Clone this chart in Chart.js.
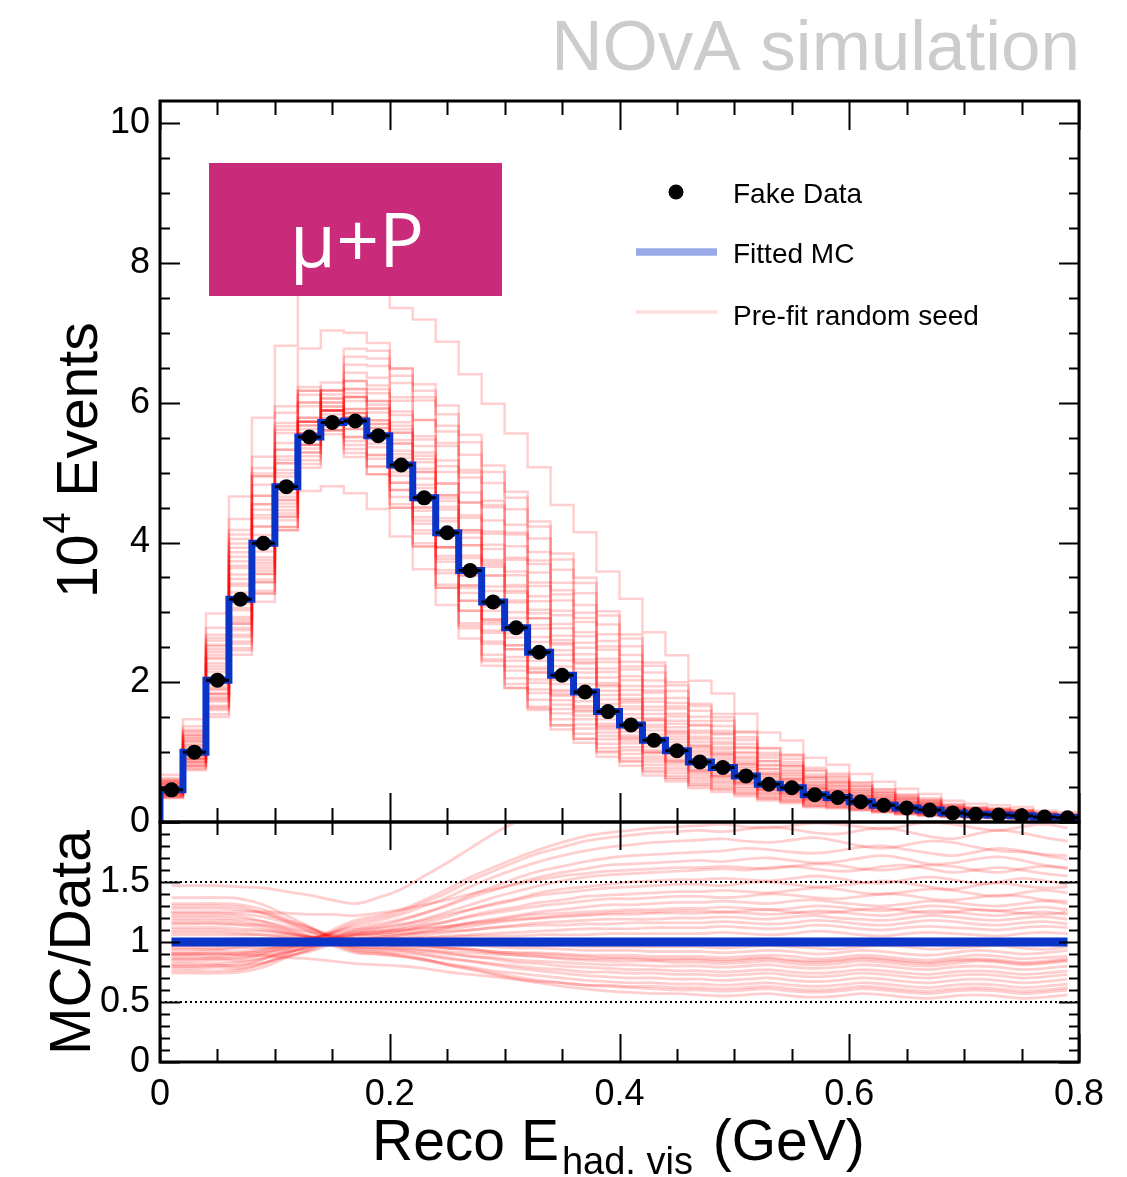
<!DOCTYPE html>
<html>
<head>
<meta charset="utf-8">
<script src="https://cdn.jsdelivr.net/npm/chart.js@4.4.1/dist/chart.umd.min.js"></script>
<style>
  html, body { margin: 0; padding: 0; background: #fff; }
  #wrap { position: relative; width: 1127px; height: 1177px; overflow: hidden; background: #fff; }
  #wrap canvas { position: absolute; left: 0; top: 0; }
</style>
</head>
<body>
<div id="wrap">
  <canvas id="mainPad" width="1127" height="1177"></canvas>
  <canvas id="ratioPad" width="1127" height="1177"></canvas>
</div>
<script>
// ---------------- data ----------------
// bin edges of reconstructed visible hadronic energy (GeV)
const binEdges = [0.00,0.02,0.04,0.06,0.08,0.10,0.12,0.14,0.16,0.18,
                  0.20,0.22,0.24,0.26,0.28,0.30,0.32,0.34,0.36,0.38,
                  0.40,0.42,0.44,0.46,0.48,0.50,0.52,0.54,0.56,0.58,
                  0.60,0.62,0.64,0.66,0.68,0.70,0.72,0.74,0.76,0.78,0.80];

// fake data, in units of 10^4 events per bin
const fakeData = [0.46,1.00,2.03,3.19,3.99,4.80,5.51,5.72,5.74,5.53,
                  5.11,4.64,4.14,3.60,3.15,2.78,2.43,2.10,1.86,1.58,
                  1.39,1.17,1.02,0.86,0.78,0.66,0.54,0.49,0.39,0.35,
                  0.29,0.24,0.20,0.17,0.13,0.11,0.10,0.09,0.07,0.06];

// post-fit MC prediction (10^4 events per bin)
const fittedMC = [0.46,1.00,2.03,3.19,3.99,4.80,5.51,5.72,5.74,5.53,
                  5.11,4.64,4.14,3.60,3.15,2.78,2.43,2.10,1.86,1.58,
                  1.39,1.17,1.02,0.86,0.78,0.66,0.54,0.49,0.39,0.35,
                  0.29,0.24,0.20,0.17,0.13,0.11,0.10,0.09,0.07,0.06];

// pre-fit random seeds, as MC/Data per bin
const seedRatio = [
 [1.47,1.47,1.47,1.46,1.45,1.42,1.39,1.35,1.32,1.37,1.44,1.55,1.66,1.78,1.90,2.00,2.09,2.16,2.23,2.27,2.30,2.32,2.34,2.35,2.36,2.35,2.37,2.38,2.36,2.34,2.37,2.40,2.38,2.35,2.33,2.36,2.39,2.37,2.34,2.36],
 [0.80,0.80,0.81,0.80,0.86,0.93,1.01,1.10,1.18,1.22,1.27,1.35,1.44,1.54,1.62,1.70,1.77,1.83,1.88,1.91,1.93,1.95,1.96,1.97,1.98,1.96,1.95,1.97,1.99,1.98,1.96,1.94,1.97,2.00,1.98,1.95,1.93,1.96,1.98,1.95],
 [0.76,0.76,0.76,0.77,0.82,0.90,0.98,1.08,1.16,1.20,1.25,1.33,1.41,1.51,1.59,1.67,1.74,1.79,1.84,1.87,1.89,1.91,1.92,1.93,1.92,1.94,1.96,1.94,1.91,1.90,1.93,1.95,1.92,1.88,1.86,1.90,1.93,1.91,1.87,1.84],
 [0.86,0.86,0.87,0.86,0.90,0.96,1.01,1.08,1.14,1.18,1.23,1.30,1.37,1.46,1.54,1.61,1.67,1.72,1.76,1.79,1.81,1.83,1.84,1.85,1.86,1.84,1.83,1.85,1.87,1.84,1.80,1.78,1.81,1.84,1.83,1.79,1.76,1.75,1.73,1.72],
 [0.74,0.74,0.74,0.75,0.79,0.87,0.94,1.03,1.10,1.13,1.18,1.24,1.31,1.39,1.46,1.53,1.59,1.63,1.67,1.70,1.72,1.73,1.74,1.75,1.76,1.78,1.77,1.75,1.74,1.76,1.79,1.80,1.77,1.74,1.72,1.75,1.78,1.76,1.72,1.69],
 [0.90,0.90,0.91,0.90,0.93,0.98,1.02,1.08,1.12,1.15,1.19,1.24,1.30,1.37,1.43,1.49,1.54,1.58,1.61,1.64,1.65,1.66,1.67,1.68,1.67,1.69,1.70,1.68,1.66,1.67,1.70,1.72,1.69,1.65,1.66,1.69,1.71,1.68,1.64,1.62],
 [0.82,0.82,0.82,0.83,0.86,0.91,0.96,1.03,1.08,1.11,1.14,1.19,1.25,1.31,1.37,1.42,1.47,1.51,1.54,1.56,1.57,1.58,1.59,1.60,1.61,1.60,1.62,1.63,1.61,1.59,1.60,1.63,1.64,1.61,1.58,1.60,1.62,1.60,1.57,1.55],
 [0.78,0.78,0.79,0.78,0.82,0.88,0.93,1.00,1.06,1.08,1.12,1.16,1.21,1.27,1.32,1.36,1.41,1.44,1.46,1.48,1.50,1.51,1.52,1.52,1.53,1.52,1.51,1.53,1.55,1.53,1.50,1.49,1.52,1.54,1.52,1.49,1.50,1.53,1.51,1.48],
 [0.95,0.95,0.95,0.96,0.97,1.00,1.03,1.07,1.10,1.12,1.15,1.18,1.23,1.27,1.31,1.35,1.39,1.41,1.43,1.45,1.46,1.47,1.48,1.48,1.47,1.49,1.50,1.48,1.46,1.47,1.49,1.51,1.49,1.46,1.44,1.47,1.49,1.47,1.45,1.46],
 [0.84,0.84,0.85,0.84,0.87,0.91,0.96,1.01,1.05,1.07,1.09,1.13,1.17,1.22,1.26,1.29,1.33,1.35,1.38,1.39,1.40,1.41,1.42,1.42,1.43,1.42,1.41,1.43,1.45,1.44,1.41,1.40,1.42,1.44,1.43,1.40,1.38,1.41,1.43,1.41],
 [0.88,0.88,0.88,0.89,0.91,0.95,0.98,1.03,1.07,1.09,1.11,1.14,1.17,1.21,1.24,1.27,1.30,1.32,1.34,1.36,1.36,1.37,1.38,1.38,1.37,1.38,1.40,1.39,1.37,1.36,1.38,1.40,1.39,1.36,1.35,1.37,1.39,1.38,1.35,1.34],
 [0.80,0.80,0.80,0.81,0.83,0.88,0.92,0.98,1.02,1.04,1.06,1.09,1.12,1.16,1.19,1.22,1.25,1.27,1.29,1.31,1.31,1.32,1.33,1.33,1.34,1.33,1.32,1.34,1.35,1.33,1.31,1.30,1.32,1.34,1.33,1.31,1.30,1.32,1.34,1.32],
 [0.92,0.92,0.93,0.92,0.94,0.97,1.00,1.03,1.06,1.07,1.09,1.11,1.13,1.16,1.18,1.21,1.23,1.24,1.25,1.26,1.27,1.27,1.28,1.28,1.29,1.28,1.27,1.28,1.30,1.29,1.27,1.26,1.28,1.30,1.29,1.27,1.26,1.28,1.29,1.27],
 [0.86,0.86,0.86,0.87,0.89,0.92,0.95,1.00,1.03,1.04,1.06,1.08,1.11,1.13,1.16,1.18,1.20,1.22,1.23,1.24,1.25,1.25,1.26,1.26,1.25,1.26,1.27,1.25,1.24,1.25,1.27,1.28,1.26,1.24,1.25,1.27,1.26,1.24,1.23,1.25],
 [0.97,0.97,0.97,0.98,0.99,1.01,1.03,1.06,1.08,1.09,1.10,1.12,1.13,1.15,1.17,1.19,1.20,1.21,1.22,1.23,1.23,1.24,1.24,1.24,1.25,1.24,1.23,1.24,1.26,1.25,1.23,1.22,1.24,1.26,1.25,1.23,1.22,1.24,1.25,1.23],
 [0.90,0.90,0.90,0.91,0.92,0.94,0.97,1.00,1.02,1.03,1.04,1.06,1.08,1.10,1.12,1.14,1.16,1.17,1.18,1.19,1.19,1.19,1.20,1.20,1.21,1.20,1.19,1.21,1.22,1.20,1.19,1.18,1.20,1.22,1.21,1.19,1.18,1.20,1.21,1.19],
 [1.02,1.02,1.02,1.03,1.03,1.03,1.04,1.05,1.06,1.06,1.07,1.08,1.09,1.10,1.12,1.13,1.14,1.14,1.15,1.15,1.16,1.16,1.16,1.16,1.17,1.16,1.15,1.16,1.18,1.17,1.15,1.14,1.16,1.18,1.17,1.15,1.14,1.16,1.17,1.15],
 [0.94,0.94,0.94,0.95,0.95,0.96,0.98,1.00,1.01,1.02,1.02,1.03,1.05,1.06,1.07,1.08,1.09,1.10,1.11,1.11,1.11,1.12,1.12,1.12,1.13,1.12,1.11,1.12,1.14,1.13,1.11,1.10,1.12,1.13,1.12,1.11,1.10,1.12,1.13,1.12],
 [1.06,1.06,1.06,1.06,1.06,1.05,1.04,1.03,1.03,1.03,1.03,1.04,1.04,1.05,1.05,1.05,1.06,1.06,1.06,1.07,1.07,1.07,1.07,1.07,1.08,1.07,1.06,1.07,1.09,1.08,1.06,1.05,1.07,1.08,1.07,1.06,1.05,1.07,1.08,1.07],
 [1.10,1.10,1.10,1.09,1.09,1.07,1.05,1.02,1.00,1.00,1.00,0.99,0.99,0.98,0.98,0.97,0.97,0.97,0.96,0.96,0.96,0.96,0.96,0.96,0.95,0.96,0.97,0.96,0.95,0.94,0.96,0.97,0.96,0.94,0.95,0.96,0.97,0.95,0.94,0.96],
 [1.16,1.16,1.16,1.15,1.14,1.11,1.08,1.05,1.02,1.02,1.01,1.00,0.99,0.98,0.96,0.95,0.95,0.94,0.93,0.93,0.93,0.92,0.92,0.92,0.91,0.92,0.93,0.92,0.90,0.91,0.93,0.92,0.90,0.89,0.91,0.93,0.92,0.90,0.91,0.93],
 [1.12,1.12,1.12,1.11,1.10,1.07,1.04,1.01,0.98,0.98,0.97,0.96,0.95,0.94,0.92,0.91,0.91,0.90,0.89,0.89,0.89,0.88,0.88,0.88,0.87,0.88,0.89,0.88,0.86,0.87,0.89,0.88,0.86,0.85,0.87,0.89,0.88,0.86,0.87,0.88],
 [1.20,1.20,1.20,1.19,1.17,1.13,1.09,1.04,1.00,0.99,0.98,0.97,0.95,0.94,0.92,0.91,0.90,0.89,0.88,0.87,0.87,0.86,0.86,0.86,0.85,0.86,0.87,0.85,0.84,0.85,0.87,0.86,0.84,0.83,0.85,0.86,0.85,0.83,0.84,0.86],
 [1.08,1.08,1.08,1.07,1.06,1.04,1.01,0.98,0.96,0.95,0.95,0.94,0.92,0.91,0.90,0.89,0.88,0.87,0.86,0.86,0.86,0.85,0.85,0.85,0.84,0.85,0.86,0.84,0.83,0.84,0.86,0.85,0.83,0.82,0.84,0.85,0.84,0.82,0.83,0.85],
 [1.24,1.24,1.24,1.23,1.21,1.16,1.11,1.06,1.01,1.00,0.99,0.97,0.95,0.93,0.91,0.89,0.88,0.86,0.85,0.84,0.84,0.84,0.83,0.83,0.82,0.83,0.84,0.82,0.81,0.82,0.84,0.83,0.81,0.80,0.82,0.84,0.83,0.81,0.82,0.84],
 [1.15,1.15,1.15,1.14,1.12,1.08,1.04,0.99,0.95,0.94,0.93,0.92,0.90,0.88,0.87,0.85,0.84,0.83,0.82,0.81,0.81,0.80,0.80,0.80,0.79,0.80,0.81,0.79,0.78,0.79,0.81,0.80,0.78,0.77,0.79,0.80,0.79,0.77,0.78,0.80],
 [1.28,1.28,1.28,1.27,1.24,1.18,1.12,1.04,0.98,0.97,0.95,0.93,0.91,0.88,0.86,0.83,0.82,0.80,0.79,0.78,0.77,0.77,0.76,0.76,0.75,0.76,0.77,0.75,0.74,0.75,0.77,0.76,0.74,0.73,0.75,0.76,0.75,0.73,0.74,0.76],
 [1.18,1.18,1.18,1.17,1.14,1.09,1.04,0.98,0.93,0.92,0.91,0.89,0.86,0.84,0.82,0.80,0.78,0.77,0.75,0.75,0.74,0.74,0.73,0.73,0.72,0.73,0.74,0.72,0.71,0.72,0.74,0.73,0.71,0.70,0.72,0.73,0.72,0.70,0.71,0.73],
 [1.32,1.32,1.32,1.31,1.27,1.19,1.12,1.03,0.96,0.95,0.93,0.90,0.87,0.84,0.81,0.78,0.76,0.74,0.72,0.71,0.70,0.70,0.69,0.69,0.68,0.69,0.70,0.68,0.67,0.68,0.70,0.69,0.67,0.66,0.68,0.69,0.68,0.66,0.67,0.69],
 [1.22,1.22,1.22,1.21,1.17,1.11,1.05,0.97,0.91,0.90,0.88,0.85,0.82,0.79,0.76,0.74,0.72,0.70,0.68,0.67,0.66,0.66,0.65,0.65,0.64,0.65,0.66,0.64,0.63,0.64,0.66,0.65,0.63,0.62,0.64,0.65,0.64,0.62,0.63,0.65],
 [1.30,1.30,1.30,1.29,1.24,1.17,1.09,1.00,0.92,0.90,0.88,0.85,0.81,0.78,0.74,0.71,0.68,0.66,0.64,0.63,0.62,0.61,0.60,0.60,0.59,0.60,0.61,0.59,0.58,0.59,0.61,0.60,0.58,0.57,0.59,0.60,0.59,0.57,0.58,0.60],
 [1.37,1.37,1.37,1.36,1.31,1.22,1.13,1.03,0.94,0.92,0.89,0.86,0.81,0.77,0.73,0.69,0.66,0.63,0.61,0.59,0.58,0.57,0.57,0.56,0.55,0.56,0.57,0.55,0.54,0.55,0.57,0.56,0.54,0.53,0.55,0.56,0.55,0.53,0.54,0.56],
 [0.90,0.90,0.90,0.89,0.89,0.87,0.86,0.84,0.82,0.81,0.80,0.78,0.75,0.73,0.71,0.69,0.67,0.66,0.64,0.64,0.63,0.63,0.62,0.62,0.61,0.62,0.63,0.61,0.60,0.61,0.63,0.62,0.60,0.59,0.61,0.62,0.61,0.59,0.60,0.62],
 [1.25,1.25,1.25,1.25,1.25,1.24,1.23,1.23,1.22,1.24,1.27,1.31,1.35,1.40,1.44,1.48,1.52,1.55,1.57,1.59,1.60,1.61,1.62,1.62,1.63,1.62,1.61,1.63,1.65,1.64,1.61,1.60,1.62,1.64,1.63,1.60,1.58,1.61,1.63,1.61]
];

// axis ticks
const xLabelTicks   = [0, 0.2, 0.4, 0.6, 0.8];
const yMainLabels   = [0, 2, 4, 6, 8, 10];
const yRatioLabels  = [0, 0.5, 1, 1.5];
const ratioGuides   = [0.5, 1.5];

// ---------------- styling ----------------
const FONT = '"Liberation Sans", Arimo, Helvetica, Arial, sans-serif';
const BLUE = '#0a34c8';
const SEED = 'rgba(255,0,0,0.19)';

const nBins = fakeData.length;
const binCentres = fakeData.map((_, i) => (binEdges[i] + binEdges[i + 1]) / 2);

// step-histogram points (value held from each low edge to the next edge)
function histPoints(values, closed) {
  const pts = values.map((v, i) => ({ x: binEdges[i], y: v }));
  pts.push({ x: binEdges[nBins], y: values[nBins - 1] });
  if (closed) { pts.unshift({ x: binEdges[0], y: 0 }); pts.push({ x: binEdges[nBins], y: 0 }); }
  return pts;
}

// inward ROOT-like tick marks and frame
function tickList(lo, hi, step) {
  const out = [];
  const n = Math.round((hi - lo) / step);
  for (let k = 0; k <= n; k++) out.push(+(lo + k * step).toFixed(4));
  return out;
}
const frameTicks = {
  id: 'frameTicks',
  afterDatasetsDraw(chart, args, o) {
    const { ctx, chartArea: a, scales } = chart;
    const xs = scales.x, ys = scales.y;
    ctx.save();
    ctx.strokeStyle = '#000';
    ctx.lineWidth = 2;
    ctx.beginPath();
    o.xMinor.forEach(v => {
      const px = Math.round(xs.getPixelForValue(v)) + 0.5;
      const major = o.xMajor.some(m => Math.abs(m - v) < 1e-6);
      const len = major ? o.xMajLen : o.xMinLen;
      ctx.moveTo(px, a.bottom); ctx.lineTo(px, a.bottom - len);
      ctx.moveTo(px, a.top); ctx.lineTo(px, a.top + len);
    });
    o.yMinor.forEach(v => {
      const py = Math.round(ys.getPixelForValue(v)) + 0.5;
      const major = o.yMajor.some(m => Math.abs(m - v) < 1e-6);
      const len = major ? o.yMajLen : o.yMinLen;
      ctx.moveTo(a.left, py); ctx.lineTo(a.left + len, py);
      ctx.moveTo(a.right, py); ctx.lineTo(a.right - len, py);
    });
    ctx.stroke();
    ctx.lineWidth = 3;
    ctx.strokeRect(a.left, a.top, a.right - a.left, a.bottom - a.top);
    ctx.restore();
  }
};

// horizontal bin-width bars on the fake data points
const dataBars = {
  id: 'dataBars',
  afterDatasetsDraw(chart) {
    const { ctx, scales } = chart;
    ctx.save();
    ctx.strokeStyle = '#000';
    ctx.lineWidth = 3;
    ctx.beginPath();
    fakeData.forEach((v, i) => {
      const py = scales.y.getPixelForValue(v);
      ctx.moveTo(scales.x.getPixelForValue(binEdges[i]), py);
      ctx.lineTo(scales.x.getPixelForValue(binEdges[i + 1]), py);
    });
    ctx.stroke();
    ctx.restore();
  }
};

// titles, legend and the sample tag on the main pad
const mainDecor = {
  id: 'mainDecor',
  afterDraw(chart) {
    const ctx = chart.ctx;
    ctx.save();
    // simulation label
    ctx.fillStyle = '#cccccc';
    ctx.font = '71px ' + FONT;
    ctx.textAlign = 'right';
    ctx.textBaseline = 'alphabetic';
    ctx.fillText('NOvA simulation', 1080, 70);

    // y axis title: 10^4 Events
    ctx.fillStyle = '#000';
    ctx.textAlign = 'left';
    ctx.translate(97, 598);
    ctx.rotate(-Math.PI / 2);
    ctx.font = '57px ' + FONT;
    ctx.fillText('10', 0, 0);
    let w = ctx.measureText('10').width;
    ctx.font = '38px ' + FONT;
    ctx.fillText('4', w + 1, -27);
    w += ctx.measureText('4').width + 1;
    ctx.font = '57px ' + FONT;
    ctx.fillText(' Events', w, 0);
    ctx.setTransform(1, 0, 0, 1, 0, 0);

    // sample tag
    ctx.fillStyle = '#c92a7a';
    ctx.fillRect(209, 163, 293, 133);
    ctx.fillStyle = '#ffffff';
    ctx.font = '75px "Open Sans", "Noto Sans", sans-serif';
    ctx.textAlign = 'center';
    ctx.fillText('\u03bc+P', 357, 267);

    // legend
    ctx.fillStyle = '#000';
    ctx.beginPath();
    ctx.arc(676, 192, 7.5, 0, Math.PI * 2);
    ctx.fill();
    ctx.lineCap = 'butt';
    ctx.strokeStyle = 'rgb(152,168,232)';
    ctx.lineWidth = 7.5;
    ctx.beginPath(); ctx.moveTo(636, 252); ctx.lineTo(717, 252); ctx.stroke();
    ctx.strokeStyle = 'rgb(255,220,220)';
    ctx.lineWidth = 3.5;
    ctx.beginPath(); ctx.moveTo(636, 312); ctx.lineTo(717, 312); ctx.stroke();
    ctx.font = '28px ' + FONT;
    ctx.textAlign = 'left';
    ctx.fillText('Fake Data', 733, 203);
    ctx.fillText('Fitted MC', 733, 263);
    ctx.fillText('Pre-fit random seed', 733, 325);
    ctx.restore();
  }
};

// titles on the ratio pad
const ratioDecor = {
  id: 'ratioDecor',
  afterDraw(chart) {
    const ctx = chart.ctx;
    ctx.save();
    ctx.fillStyle = '#000';
    ctx.textBaseline = 'alphabetic';
    ctx.textAlign = 'left';
    // x axis title with subscript
    let x = 372;
    ctx.font = '57px ' + FONT;
    ctx.fillText('Reco E', x, 1160);
    x += ctx.measureText('Reco E').width + 3;
    ctx.font = '38px ' + FONT;
    ctx.fillText('had. vis', x, 1174);
    x += ctx.measureText('had. vis').width + 4;
    ctx.font = '57px ' + FONT;
    ctx.fillText(' (GeV)', x, 1160);
    // y axis title
    ctx.translate(90, 1055);
    ctx.rotate(-Math.PI / 2);
    ctx.fillText('MC/Data', 0, 0);
    ctx.restore();
  }
};

const plainNumber = v => String(+Number(v).toFixed(2));

// ---------------- main pad ----------------
const mainDatasets = [];
mainDatasets.push({
  label: 'Fake Data', type: 'scatter',
  data: fakeData.map((v, i) => ({ x: binCentres[i], y: v })),
  pointRadius: 7.5, pointBackgroundColor: '#000', pointBorderWidth: 0, showLine: false
});
mainDatasets.push({
  label: 'Fitted MC', type: 'line', data: histPoints(fittedMC, true),
  stepped: 'before', borderColor: BLUE, borderWidth: 7, pointRadius: 0, fill: false
});
seedRatio.forEach((r, s) => {
  mainDatasets.push({
    label: 'Pre-fit random seed ' + (s + 1), type: 'line',
    data: histPoints(fakeData.map((v, i) => v * r[i]), false),
    stepped: 'before', borderColor: SEED, borderWidth: 2.5, pointRadius: 0, fill: false
  });
});

new Chart(document.getElementById('mainPad'), {
  type: 'line',
  data: { datasets: mainDatasets },
  options: {
    responsive: false, animation: false, devicePixelRatio: 1,
    layout: { padding: { left: 0, top: 101, right: 48, bottom: 355 } },
    plugins: {
      legend: { display: false }, tooltip: { enabled: false },
      frameTicks: {
        xMinor: tickList(0, 0.8, 0.05), xMajor: xLabelTicks, xMajLen: 29, xMinLen: 14,
        yMinor: tickList(0, 10, 0.5), yMajor: yMainLabels, yMajLen: 20, yMinLen: 10
      }
    },
    scales: {
      x: { type: 'linear', min: 0, max: 0.8, display: false },
      y: {
        type: 'linear', min: 0, max: 10.32,
        grid: { display: false, drawTicks: false }, border: { display: false },
        ticks: { font: { family: FONT, size: 36 }, color: '#000', padding: 10, callback: plainNumber },
        afterBuildTicks: s => { s.ticks = yMainLabels.map(v => ({ value: v })); },
        afterFit: s => { s.width = 160; }
      }
    }
  },
  plugins: [frameTicks, dataBars, mainDecor]
});

// ---------------- ratio pad ----------------
const ratioDatasets = [];
ratioDatasets.push({
  label: 'Fitted MC / Data', type: 'line',
  data: fittedMC.map((v, i) => ({ x: binCentres[i], y: v / fakeData[i] })),
  borderColor: BLUE, borderWidth: 9, pointRadius: 0, tension: 0, clip: 0
});
ratioGuides.forEach(g => {
  ratioDatasets.push({
    label: 'guide ' + g, type: 'line',
    data: [{ x: binEdges[0], y: g }, { x: binEdges[nBins], y: g }],
    borderColor: '#000', borderWidth: 2, borderDash: [2, 3], pointRadius: 0, clip: 0
  });
});
seedRatio.forEach((r, s) => {
  ratioDatasets.push({
    label: 'seed ratio ' + (s + 1), type: 'line',
    data: r.map((v, i) => ({ x: binCentres[i], y: v })),
    borderColor: SEED, borderWidth: 2.8, pointRadius: 0, tension: 0.4, clip: 0
  });
});

new Chart(document.getElementById('ratioPad'), {
  type: 'line',
  data: { datasets: ratioDatasets },
  options: {
    responsive: false, animation: false, devicePixelRatio: 1,
    layout: { padding: { left: 0, top: 822, right: 48, bottom: 0 } },
    plugins: {
      legend: { display: false }, tooltip: { enabled: false },
      frameTicks: {
        xMinor: tickList(0, 0.8, 0.05), xMajor: xLabelTicks, xMajLen: 28, xMinLen: 13,
        yMinor: tickList(0, 2, 0.1), yMajor: [0, 0.5, 1, 1.5, 2], yMajLen: 20, yMinLen: 10
      }
    },
    scales: {
      x: {
        type: 'linear', min: 0, max: 0.8,
        grid: { display: false, drawTicks: false }, border: { display: false },
        ticks: {
          font: { family: FONT, size: 36 }, color: '#000', padding: 11,
          autoSkip: false, maxRotation: 0, callback: plainNumber
        },
        afterBuildTicks: s => { s.ticks = xLabelTicks.map(v => ({ value: v })); },
        afterFit: s => { s.height = 115; }
      },
      y: {
        type: 'linear', min: 0, max: 2,
        grid: { display: false, drawTicks: false }, border: { display: false },
        ticks: { font: { family: FONT, size: 36 }, color: '#000', padding: 10, callback: plainNumber },
        afterBuildTicks: s => { s.ticks = yRatioLabels.map(v => ({ value: v })); },
        afterFit: s => { s.width = 160; }
      }
    }
  },
  plugins: [frameTicks, ratioDecor]
});
</script>
</body>
</html>
